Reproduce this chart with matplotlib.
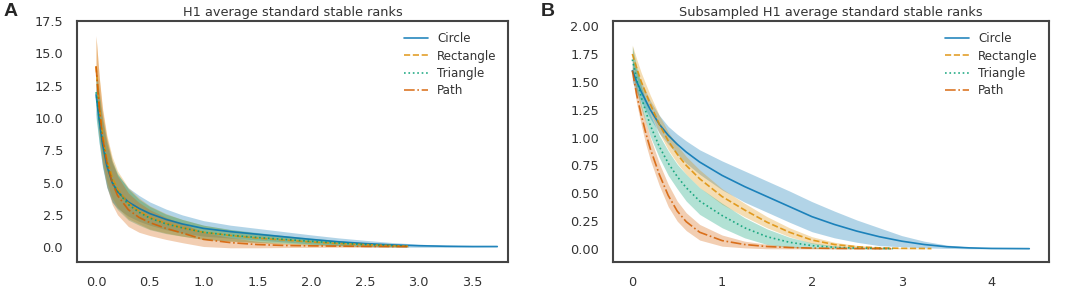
import numpy as np
import matplotlib
matplotlib.use("Agg")
import matplotlib.pyplot as plt
import matplotlib.ticker as mticker
import seaborn as sns

sns.set_style("white")
plt.rcParams['font.family'] = ['DejaVu Sans']

# Panel A: H1 average standard stable ranks
a_x_circle = [0.0, 0.03, 0.06, 0.1, 0.15, 0.2, 0.3, 0.4, 0.5, 0.65, 0.8, 1.0, 1.25, 1.5, 1.75,
              2.0, 2.25, 2.5, 2.75, 3.0, 3.25, 3.5, 3.73]
a_circle = [11.8, 9.8, 8.0, 6.3, 5.0, 4.3, 3.5, 3.0, 2.6, 2.15, 1.8, 1.45, 1.2, 1.0, 0.8,
            0.6, 0.42, 0.28, 0.18, 0.11, 0.07, 0.05, 0.05]
a_circle_err = [1.5, 1.8, 1.8, 1.7, 1.5, 1.3, 1.1, 1.0, 0.9, 0.8, 0.7, 0.6, 0.5, 0.45, 0.4,
                0.35, 0.3, 0.25, 0.18, 0.12, 0.08, 0.05, 0.03]

a_x_short = [0.0, 0.03, 0.06, 0.1, 0.15, 0.2, 0.3, 0.4, 0.5, 0.65, 0.8, 1.0, 1.25, 1.5, 1.75,
             2.0, 2.25, 2.5, 2.75, 2.9]
a_rect = [14.0, 11.0, 8.8, 6.9, 5.4, 4.5, 3.4, 2.8, 2.3, 1.85, 1.5, 1.15, 0.9, 0.7, 0.55,
          0.4, 0.28, 0.2, 0.12, 0.08]
a_rect_err = [2.3, 2.2, 2.0, 1.8, 1.6, 1.4, 1.2, 1.0, 0.9, 0.75, 0.65, 0.55, 0.45, 0.38, 0.32,
              0.26, 0.2, 0.15, 0.1, 0.06]
a_tri = [12.0, 10.0, 8.2, 6.5, 5.1, 4.3, 3.3, 2.7, 2.25, 1.8, 1.5, 1.15, 0.92, 0.75, 0.6,
         0.45, 0.32, 0.2, 0.12, 0.07]
a_tri_err = [2.0, 2.0, 1.9, 1.8, 1.6, 1.4, 1.2, 1.0, 0.9, 0.75, 0.65, 0.55, 0.45, 0.38, 0.3,
             0.25, 0.18, 0.12, 0.08, 0.05]
a_path = [14.0, 10.8, 8.5, 6.6, 5.0, 4.0, 2.9, 2.3, 1.9, 1.45, 1.1, 0.6, 0.35, 0.2, 0.13,
          0.1, 0.08, 0.06, 0.05, 0.04]
a_path_err = [2.4, 2.3, 2.1, 1.9, 1.7, 1.5, 1.3, 1.15, 1.0, 0.85, 0.75, 0.55, 0.4, 0.25, 0.16,
              0.12, 0.09, 0.07, 0.05, 0.04]

# Panel B: subsampled H1 average standard stable ranks
b_x_circle = [0.0, 0.05, 0.1, 0.2, 0.3, 0.4, 0.5, 0.6, 0.75, 1.0, 1.25, 1.5, 1.75, 2.0, 2.25,
              2.5, 2.75, 3.0, 3.25, 3.5, 3.75, 4.0, 4.42]
b_circle = [1.6, 1.5, 1.41, 1.25, 1.12, 1.02, 0.94, 0.87, 0.78, 0.66, 0.56, 0.47, 0.38, 0.29,
            0.22, 0.16, 0.11, 0.07, 0.04, 0.02, 0.01, 0.005, 0.003]
b_circle_err = [0.1, 0.1, 0.09, 0.08, 0.08, 0.08, 0.09, 0.1, 0.11, 0.13, 0.14, 0.14, 0.14, 0.135,
                0.12, 0.1, 0.08, 0.05, 0.03, 0.015, 0.008, 0.004, 0.002]

b_x_rect = [0.0, 0.05, 0.1, 0.2, 0.3, 0.4, 0.5, 0.6, 0.75, 1.0, 1.25, 1.5, 1.75, 2.0, 2.25,
            2.5, 2.75, 3.0, 3.33]
b_rect = [1.75, 1.62, 1.5, 1.3, 1.12, 0.97, 0.85, 0.75, 0.63, 0.47, 0.35, 0.24, 0.15, 0.08,
          0.04, 0.02, 0.01, 0.006, 0.004]
b_rect_err = [0.08, 0.08, 0.08, 0.08, 0.08, 0.08, 0.08, 0.08, 0.08, 0.07, 0.06, 0.05, 0.04,
              0.03, 0.02, 0.012, 0.008, 0.005, 0.003]

b_x_tri = [0.0, 0.05, 0.1, 0.2, 0.3, 0.4, 0.5, 0.6, 0.75, 1.0, 1.25, 1.5, 1.75, 2.0, 2.25,
           2.5, 2.75, 2.9]
b_tri = [1.7, 1.52, 1.36, 1.11, 0.92, 0.77, 0.65, 0.55, 0.43, 0.3, 0.19, 0.11, 0.06, 0.03,
         0.015, 0.008, 0.005, 0.004]
b_tri_err = [0.12, 0.11, 0.1, 0.1, 0.1, 0.11, 0.11, 0.12, 0.12, 0.11, 0.09, 0.07, 0.045, 0.025,
             0.012, 0.006, 0.004, 0.003]

b_x_path = [0.0, 0.05, 0.1, 0.15, 0.2, 0.3, 0.4, 0.5, 0.6, 0.75, 1.0, 1.25, 1.5, 1.75, 2.0,
            2.25, 2.5, 2.88]
b_path = [1.6, 1.38, 1.2, 1.04, 0.9, 0.67, 0.48, 0.34, 0.245, 0.15, 0.075, 0.04, 0.022, 0.013,
          0.008, 0.005, 0.004, 0.003]
b_path_err = [0.06, 0.08, 0.09, 0.1, 0.1, 0.1, 0.1, 0.09, 0.08, 0.07, 0.05, 0.03, 0.02, 0.012,
              0.008, 0.005, 0.004, 0.003]

labels = ["Circle", "Rectangle", "Triangle", "Path"]
colors = ["#0173B2", "#DE8F05", "#029E73", "#D55E00"]
styles = ["-", "--", ":", "-."]

panel_a = [(a_x_circle, a_circle, a_circle_err), (a_x_short, a_rect, a_rect_err),
           (a_x_short, a_tri, a_tri_err), (a_x_short, a_path, a_path_err)]
panel_b = [(b_x_circle, b_circle, b_circle_err), (b_x_rect, b_rect, b_rect_err),
           (b_x_tri, b_tri, b_tri_err), (b_x_path, b_path, b_path_err)]

fig = plt.figure(figsize=(10.65, 2.89), dpi=100)
ax1 = fig.add_axes([0.0723, 0.0934, 0.4047, 0.8336])
ax2 = fig.add_axes([0.5756, 0.0934, 0.4094, 0.8336])


def draw(ax, series, title):
    for (x, y, e), lab, c, ls in zip(series, labels, colors, styles):
        x = np.array(x)
        y = np.array(y)
        e = np.array(e)
        ax.fill_between(x, y - e, y + e, color=c, alpha=0.3, linewidth=0)
        ax.plot(x, y, color=c, linestyle=ls, linewidth=1.2, alpha=0.85, label=lab)
    ax.set_title(title, fontsize=9.3, color="#333333", pad=4)
    ax.tick_params(length=0, labelsize=9.3, labelcolor="#333333", pad=10)
    for sp in ax.spines.values():
        sp.set_color("#444444")
        sp.set_linewidth(1.5)
    ax.legend(loc="upper right", frameon=False, fontsize=8.6, handlelength=2.0,
              labelspacing=0.35, borderaxespad=0.55, labelcolor="#333333")


draw(ax1, panel_a, "H1 average standard stable ranks")
ax1.set_xlim(-0.177, 3.83)
ax1.set_ylim(-1.15, 17.4)
ax1.set_xticks([0.0, 0.5, 1.0, 1.5, 2.0, 2.5, 3.0, 3.5])
ax1.set_yticks([0.0, 2.5, 5.0, 7.5, 10.0, 12.5, 15.0, 17.5])

draw(ax2, panel_b, "Subsampled H1 average standard stable ranks")
ax2.set_xlim(-0.215, 4.64)
ax2.set_ylim(-0.117, 2.045)
ax2.set_xticks([0, 1, 2, 3, 4])
ax2.set_yticks([0.0, 0.25, 0.5, 0.75, 1.0, 1.25, 1.5, 1.75, 2.0])
ax2.yaxis.set_major_formatter(mticker.FormatStrFormatter("%.2f"))

fig.text(0.003, 0.99, "A", fontsize=14, fontweight="bold", family="Liberation Sans", va="top")
fig.text(0.508, 0.99, "B", fontsize=14, fontweight="bold", family="Liberation Sans", va="top")

fig.savefig("out.png", dpi=100)
